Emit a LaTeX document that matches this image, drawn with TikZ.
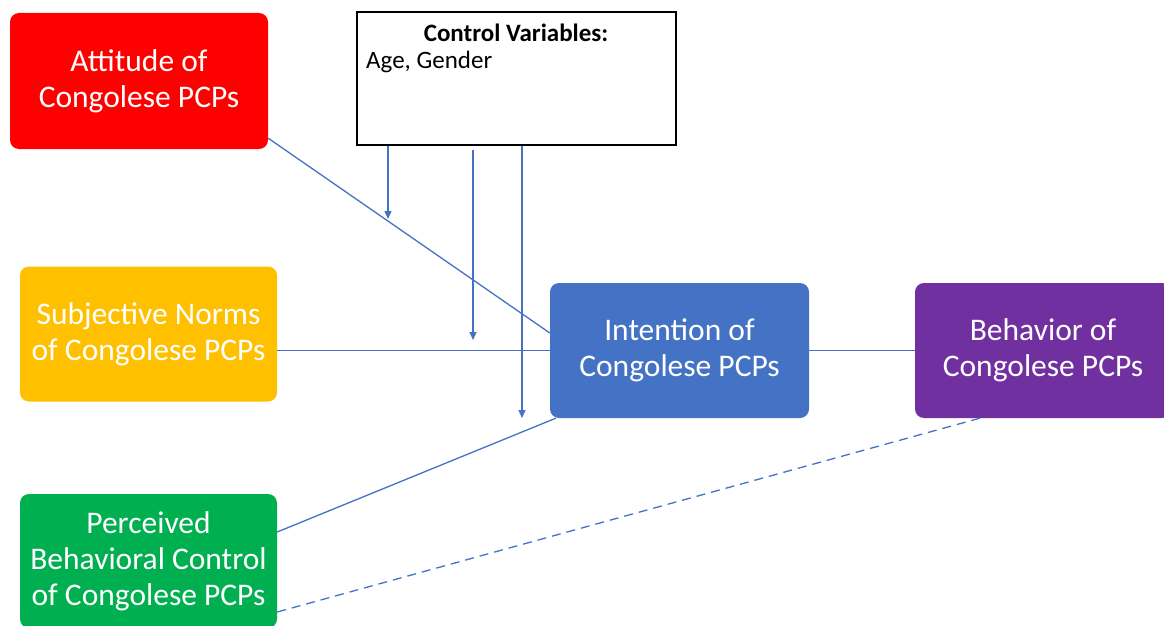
\documentclass[tikz,border=0pt]{standalone}
\usepackage{fontspec}
\setmainfont{Carlito}
\usetikzlibrary{arrows.meta}
\definecolor{cred}{HTML}{FF0000}
\definecolor{cyellow}{HTML}{FFC000}
\definecolor{cgreen}{HTML}{00B050}
\definecolor{cblue}{HTML}{4472C4}
\definecolor{cpurple}{HTML}{7030A0}
\tikzset{
  box/.style={rectangle, rounded corners=9pt, text=white, align=center,
    inner sep=0pt, font=\fontsize{31.5}{36}\selectfont},
  link/.style={draw=cblue, line width=1.3pt},
  ctrlarrow/.style={link, -{Triangle[length=8pt,width=7pt]}},
}
\begin{document}
\begin{tikzpicture}[x=1pt,y=-1pt]
\useasboundingbox (0,0) rectangle (1164,626);
\fill[white] (0,0) rectangle (1164,626);
% boxes
\node[box, fill=cred, minimum width=258pt, minimum height=136pt] (att) at (139,81) {Attitude of\\Congolese PCPs};
\node[box, fill=cyellow, minimum width=257pt, minimum height=135pt] (sub) at (148.5,334) {Subjective Norms\\of Congolese PCPs};
\node[box, fill=cgreen, minimum width=257pt, minimum height=134pt] (per) at (148.5,561) {Perceived\\Behavioral Control\\of Congolese PCPs};
\node[box, fill=cblue, minimum width=259pt, minimum height=135pt] (int) at (679.5,350.5) {Intention of\\Congolese PCPs};
\node[box, fill=cpurple, minimum width=256pt, minimum height=135pt] (beh) at (1043,350.5) {Behavior of\\Congolese PCPs};
\node[rectangle, draw=black, line width=1.3pt, fill=white, minimum width=319pt, minimum height=133pt, inner sep=0pt] (ctrl) at (516.5,78.5) {};
\node[font=\fontsize{25}{28}\selectfont\bfseries, inner sep=0pt] (ctrltitle) at (516,33) {Control Variables:};
\node[font=\fontsize{25}{28}\selectfont, anchor=west, inner sep=0pt] (ctrlitems) at (366,62) {Age, Gender};
% connectors
\draw[link] ([yshift=11pt]att.south east) -- ([yshift=17.5pt]int.west);
\draw[link] (int.west -| sub.east) -- (int.west);
\draw[link] ([yshift=29pt]per.east) -- ([xshift=6pt]int.south west);
\draw[link] (int.east) -- (beh.west);
\draw[link, dash pattern=on 9pt off 6pt] ([yshift=-51pt]per.east) -- ([xshift=65pt]beh.south west);
% control arrows
\coordinate (c1) at (388,219);
\coordinate (c2s) at (473,150);
\coordinate (c2) at (473,340);
\coordinate (c3) at (522,418);
\draw[ctrlarrow] (ctrl.south -| c1) -- (c1);
\draw[ctrlarrow] (c2s) -- (c2);
\draw[ctrlarrow] (ctrl.south -| c3) -- (c3);
\end{tikzpicture}
\end{document}
